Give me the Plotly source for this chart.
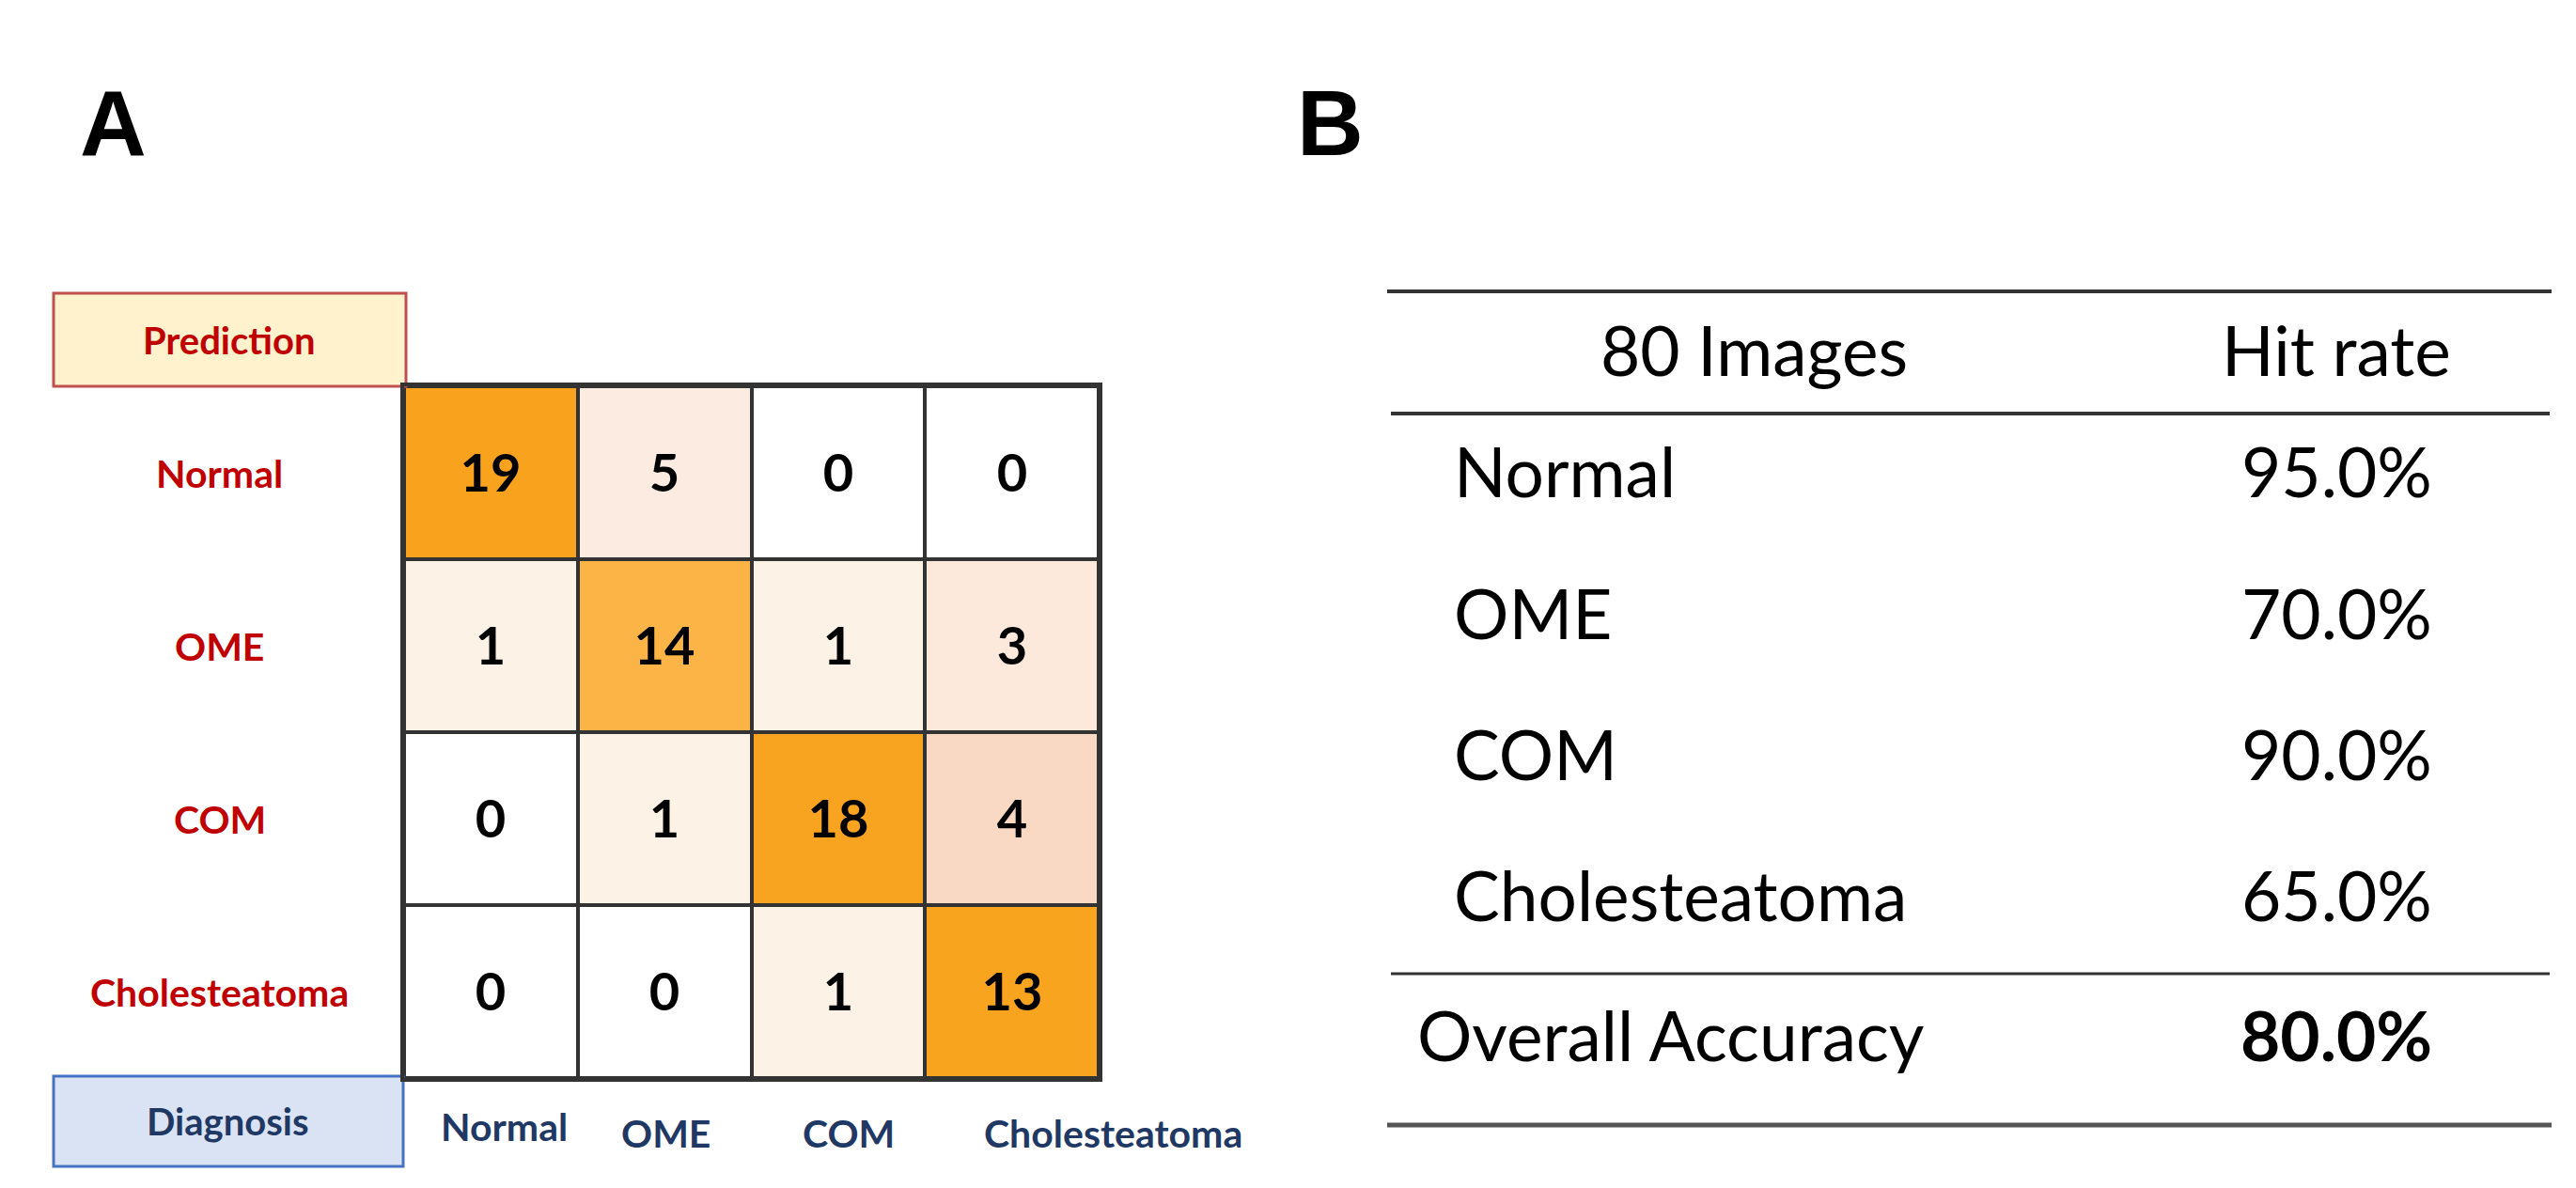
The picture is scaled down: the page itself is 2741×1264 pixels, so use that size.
import plotly.graph_objects as go

# ---------------- data ----------------
prediction_labels = ["Normal", "OME", "COM", "Cholesteatoma"]   # rows
diagnosis_labels = ["Normal", "OME", "COM", "Cholesteatoma"]    # columns
counts = [
    [19, 5, 0, 0],
    [1, 14, 1, 3],
    [0, 1, 18, 4],
    [0, 0, 1, 13],
]
table_header = ["80 Images", "Hit rate"]
table_classes = ["Normal", "OME", "COM", "Cholesteatoma"]
hit_rates = [95.0, 70.0, 90.0, 65.0]
overall_label = "Overall Accuracy"
overall_value = 80.0

# ---------------- layout helpers ----------------
W, H = 2741, 1264
def px(x):
    return x / W
def py(y):
    return 1 - y / H

RED = "#C00000"
NAVY = "#1F3864"
FONT = "Lato"

grid_x0, grid_x1 = 422, 1161
grid_y0, grid_y1 = 403, 1139

colorscale = [
    [0.0, "#FFFFFF"],
    [1 / 19, "#FDF2E6"],
    [3 / 19, "#FCE9DC"],
    [4 / 19, "#F9D9C4"],
    [5 / 19, "#FBEBE0"],
    [13 / 19, "#F9A41F"],
    [14 / 19, "#FBB445"],
    [18 / 19, "#F9A420"],
    [1.0, "#F9A21E"],
]

fig = go.Figure()
fig.add_trace(go.Heatmap(
    z=counts,
    x=diagnosis_labels,
    y=prediction_labels,
    zmin=0, zmax=19,
    colorscale=colorscale,
    showscale=False,
    xgap=4, ygap=4,
    texttemplate="<b>%{z}</b>",
    textfont=dict(family=FONT, size=56, color="black"),
    hoverinfo="skip",
))

fig.update_xaxes(domain=[px(grid_x0), px(grid_x1)], showticklabels=False, ticks="",
                 showgrid=False, zeroline=False, showline=True, mirror=True,
                 linecolor="#333333", linewidth=4)
fig.update_yaxes(domain=[py(grid_y1), py(grid_y0)], showticklabels=False, ticks="",
                 showgrid=False, zeroline=False, showline=True, mirror=True,
                 linecolor="#333333", linewidth=4, autorange="reversed")

shapes = []
annotations = []

def ann(text, x, y, size, color="black", bold=False, xanchor="center", family=FONT):
    annotations.append(dict(
        text=f"<b>{text}</b>" if bold else text,
        x=px(x), y=py(y), xref="paper", yref="paper",
        xanchor=xanchor, yanchor="middle", showarrow=False,
        font=dict(family=family, size=size, color=color),
    ))

# panel letters
ann("A", 112, 123, 98, bold=True, family="Liberation Sans")
ann("B", 1407, 123, 98, bold=True, family="Liberation Sans")

# Prediction / Diagnosis boxes
shapes.append(dict(type="rect", xref="paper", yref="paper",
                   x0=px(49), x1=px(424), y0=py(403), y1=py(304),
                   fillcolor="#FFF2CC", line=dict(color="#C0504D", width=3), layer="below"))
ann("Prediction", 236, 354, 40, color=RED, bold=True)
shapes.append(dict(type="rect", xref="paper", yref="paper",
                   x0=px(49), x1=px(421), y0=py(1233), y1=py(1137),
                   fillcolor="#DAE3F3", line=dict(color="#4472C4", width=3), layer="below"))
ann("Diagnosis", 234, 1185, 40, color=NAVY, bold=True)

# row labels (prediction)
for lab in prediction_labels:
    annotations.append(dict(
        text=f"<b>{lab}</b>", x=px(226), y=lab, xref="paper", yref="y",
        xanchor="center", yanchor="middle", showarrow=False,
        font=dict(family=FONT, size=41, color=RED),
    ))

# column labels (diagnosis)
col_label_x = [528, 700, 895, 1176]
col_label_y = [1190, 1197, 1197, 1197]
for lab, x, y in zip(diagnosis_labels, col_label_x, col_label_y):
    ann(lab, x, y, 41, color=NAVY, bold=True)

# ---------------- panel B table ----------------
def hline(y, x0, x1, width, color):
    shapes.append(dict(type="line", xref="paper", yref="paper",
                       x0=px(x0), x1=px(x1), y0=py(y), y1=py(y),
                       line=dict(color=color, width=width)))

hline(302, 1468, 2707, 4, "#333333")
hline(432, 1472, 2705, 4, "#333333")
hline(1028, 1472, 2705, 3, "#333333")
hline(1189, 1468, 2707, 5, "#555555")

ann(table_header[0], 1858, 364, 73)
ann(table_header[1], 2478, 364, 73)

row_y = [493, 644, 794, 944]
for name, rate, y in zip(table_classes, hit_rates, row_y):
    ann(name, 1537, y, 73, xanchor="left")
    ann(f"{rate:.1f}%", 2478, y, 73)

ann(overall_label, 1498, 1093, 73, xanchor="left")
ann(f"{overall_value:.1f}%", 2478, 1093, 73, bold=True)

fig.update_layout(
    width=W, height=H,
    margin=dict(l=0, r=0, t=0, b=0),
    paper_bgcolor="white",
    plot_bgcolor="#333333",
    shapes=shapes,
    annotations=annotations,
    showlegend=False,
)

fig.write_html("out.html")
